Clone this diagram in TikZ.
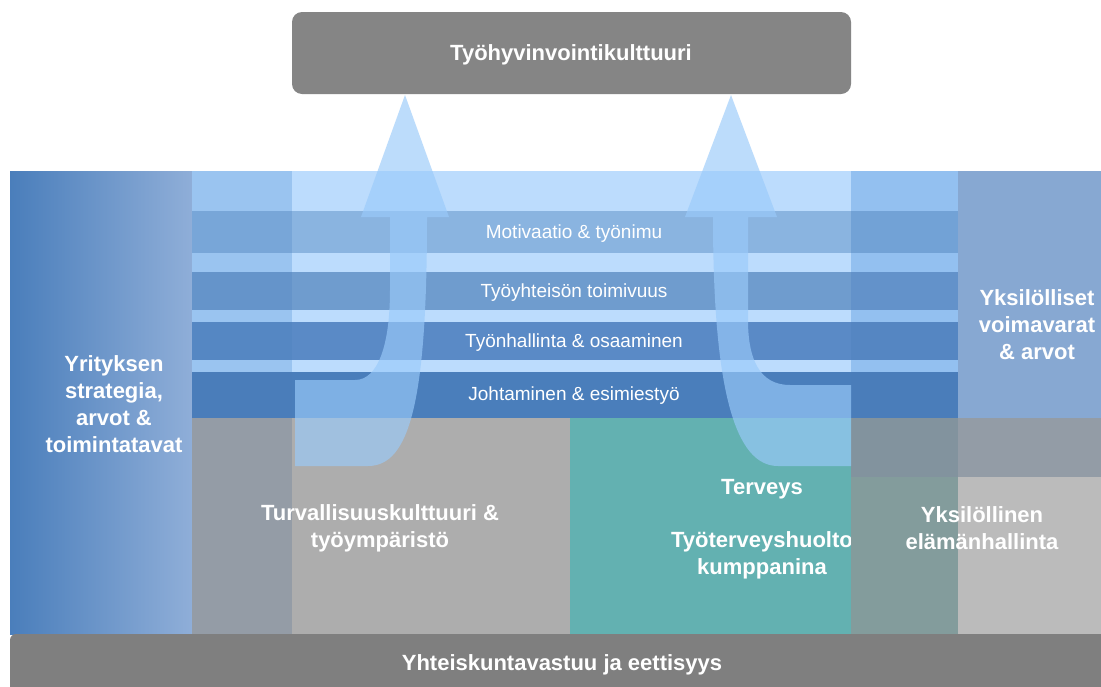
\documentclass[tikz,border=0pt]{standalone}
\usepackage{fontspec}
\setmainfont{Liberation Sans}
\begin{document}
\begin{tikzpicture}[x=1pt,y=-1pt,
  lbl/.style={text=white,font=\fontsize{22}{27}\selectfont\bfseries,align=center,inner sep=0pt},
  slbl/.style={text=white,font=\fontsize{19}{22}\selectfont,inner sep=0pt},
  arrowshape/.style={fill={rgb,255:red,154;green,202;blue,250},fill opacity=0.66,draw=none}]
\definecolor{lightB}{HTML}{BCDCFD}
\definecolor{sOneB}{HTML}{8AB4E0}
\definecolor{sTwoB}{HTML}{6F9CCE}
\definecolor{sThreeB}{HTML}{5A8AC6}
\definecolor{sFourB}{HTML}{4A7EBB}
\definecolor{lightA}{HTML}{9AC4F0}
\definecolor{sOneA}{HTML}{78A6D8}
\definecolor{sTwoA}{HTML}{6594CA}
\definecolor{sThreeA}{HTML}{5587C3}
\definecolor{sFourA}{HTML}{4A7DBA}
\definecolor{lightC}{HTML}{93C0F0}
\definecolor{sOneC}{HTML}{72A2D6}
\definecolor{sTwoC}{HTML}{6392CA}
\definecolor{sThreeC}{HTML}{5586C2}
\definecolor{sFourC}{HTML}{4A7DBA}
\definecolor{colD}{HTML}{87A8D2}
\definecolor{botA}{HTML}{949CA6}
\definecolor{grayB}{HTML}{ADADAD}
\definecolor{tealB}{HTML}{63B1B1}
\definecolor{cTop}{HTML}{82939E}
\definecolor{cBot}{HTML}{839C9C}
\definecolor{dMid}{HTML}{939CA6}
\definecolor{dBot}{HTML}{BBBBBB}
\definecolor{gradL}{HTML}{4A7EBB}
\definecolor{gradR}{HTML}{8FAED8}
\definecolor{topbox}{HTML}{858585}
\definecolor{botbar}{HTML}{7F7F7F}
\useasboundingbox (0,0) rectangle (1101,686);
\clip (0,0) rectangle (1101,686);
\fill[white] (0,0) rectangle (1101,686);
% top box
\fill[topbox,rounded corners=10pt] (292,12) rectangle (851,94);
\node[lbl] (top) at (571,55) {Työhyvinvointikulttuuri};
% left column gradient
\shade[left color=gradL,right color=gradR] (10,171) rectangle (192,634);
% stripes, column A (192-292), B (292-851), C (851-958)
\foreach \ya/\yb/\ca/\cb/\cc in {171/211/lightA/lightB/lightC,
  211/253/sOneA/sOneB/sOneC, 253/272/lightA/lightB/lightC,
  272/310/sTwoA/sTwoB/sTwoC, 310/322/lightA/lightB/lightC,
  322/360/sThreeA/sThreeB/sThreeC, 360/372/lightA/lightB/lightC,
  372/418/sFourA/sFourB/sFourC}{
  \fill[\ca] (192,\ya) rectangle (292,\yb);
  \fill[\cb] (292,\ya) rectangle (851,\yb);
  \fill[\cc] (851,\ya) rectangle (958,\yb);
}
% right column D
\fill[colD] (958,171) rectangle (1101,418);
% bottom region
\fill[botA] (192,418) rectangle (292,634);
\fill[grayB] (292,418) rectangle (570,634);
\fill[tealB] (570,418) rectangle (851,634);
\node[lbl] (terveys) at (762,489) {Terveys};
\node[lbl] (tth) at (762,555) {Työterveyshuolto\\kumppanina};
\fill[cTop] (851,418) rectangle (958,477);
\fill[cBot] (851,477) rectangle (958,634);
\fill[dMid] (958,418) rectangle (1101,477);
\fill[dBot] (958,477) rectangle (1101,634);
% bottom bar
\fill[botbar,rounded corners=6pt] (10,634) rectangle (1130,700);
\node[lbl] (yht) at (562,665) {Yhteiskuntavastuu ja eettisyys};
% arrows
\path[arrowshape] (390,217) -- (361,217) -- (405,95) -- (449,217) -- (427,217)
  .. controls (427,400) and (410,466) .. (368,466) -- (295,466) -- (295,380) -- (355,380)
  .. controls (378,380) and (390,345) .. (390,290) -- cycle;
\path[arrowshape] (713,217) -- (685,217) -- (731,95) -- (777,217) -- (748,217) -- (748,320)
  .. controls (748,360) and (760,385) .. (790,385) -- (851,385) -- (851,466) -- (778,466)
  .. controls (735,466) and (713,390) .. (713,217) -- cycle;
% stripe labels
\node[slbl] (mot) at (574,234) {Motivaatio \& työnimu};
\node[slbl] (tyy) at (574,293) {Työyhteisön toimivuus};
\node[slbl] (tyh) at (574,343) {Työnhallinta \& osaaminen};
\node[slbl] (joh) at (574,396) {Johtaminen \& esimiestyö};
% bold labels
\node[lbl] (yri) at (114,404) {Yrityksen\\strategia,\\arvot \&\\toimintatavat};
\node[lbl] (yks) at (1037,325) {Yksilölliset\\voimavarat\\\& arvot};
\node[lbl] (turv) at (380,528) {Turvallisuuskulttuuri \&\\työympäristö};
\node[lbl] (ela) at (982,528) {Yksilöllinen\\elämänhallinta};
\end{tikzpicture}
\end{document}
